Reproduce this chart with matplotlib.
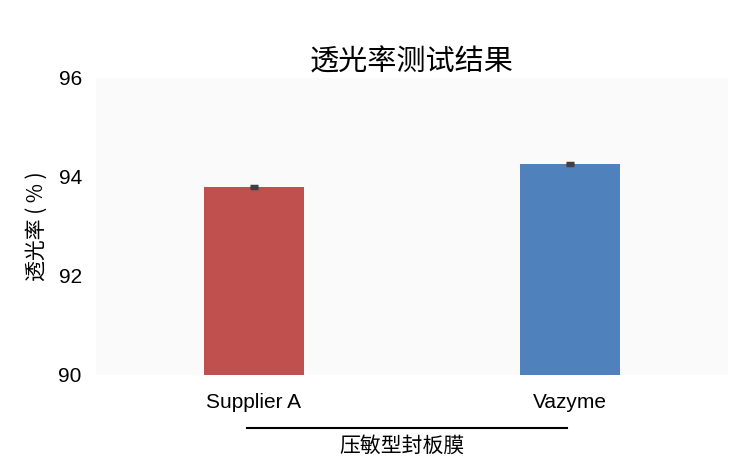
import matplotlib
matplotlib.use("Agg")
import matplotlib.pyplot as plt
import matplotlib.transforms as mtransforms

plt.rcParams['font.family'] = ['Noto Sans CJK SC', 'Liberation Sans', 'DejaVu Sans']

# data
groups = ["Supplier A", "Vazyme"]
transmittance = [93.80, 94.26]
errors = [0.02, 0.02]
bar_colors = ["#C0504D", "#4F81BD"]

title = "透光率测试结果"
ylabel = "透光率 ( % )"
group_label = "压敏型封板膜"
yticks = [90, 92, 94, 96]

fig = plt.figure(figsize=(7.54, 4.74), dpi=100)
ax = fig.add_axes([0.127, 0.209, 0.8385, 0.6265])
ax.set_facecolor("#fafafa")

x = list(range(len(groups)))
ax.bar(x, transmittance, width=0.317, color=bar_colors, zorder=2)
ax.errorbar(x, transmittance, yerr=errors, fmt="none", ecolor="#404040",
            elinewidth=2, capsize=3, capthick=2.5, zorder=3)

ax.set_xlim(-0.5, 1.5)
ax.set_ylim(90, 96)
ax.set_yticks(yticks)
ax.set_yticklabels([str(v) for v in yticks], family="Liberation Sans", fontsize=15)
ax.set_xticks(x)
ax.set_xticklabels(groups, family="Liberation Sans", fontsize=15)
ax.tick_params(axis="both", length=0)
ax.tick_params(axis="y", pad=10)
ax.tick_params(axis="x", pad=13)
for s in ax.spines.values():
    s.set_visible(False)

ax.set_title(title, fontsize=21, pad=5)
ax.set_ylabel(ylabel, fontsize=15, labelpad=8)

# group line and label below the tick labels
trans = mtransforms.blended_transform_factory(ax.transData, ax.transAxes)
ax.plot([-0.02, 0.99], [-0.178, -0.178], color="black", lw=1.5,
        transform=trans, clip_on=False)
ax.text(0.47, -0.24, group_label, transform=trans, ha="center", va="center",
        fontsize=15)

fig.savefig("out.png", dpi=100, facecolor="white")
